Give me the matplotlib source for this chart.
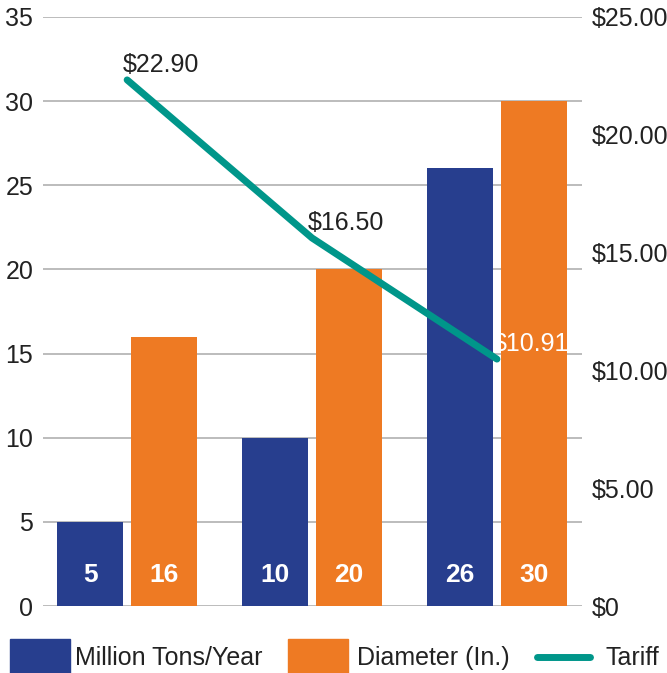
import matplotlib
matplotlib.use('Agg')
import matplotlib.pyplot as plt
from matplotlib.patches import Rectangle
import numpy as np

plt.rcParams['font.family'] = ['Liberation Sans', 'DejaVu Sans']

# data
groups = ['A', 'B', 'C']
tons = [5, 10, 26]
diameter = [16, 20, 30]
tariff = [22.33, 15.62, 10.48]          # where the line sits in the picture
tariff_labels = ['$22.90', '$16.50', '$10.91']
left_ticks = [0, 5, 10, 15, 20, 25, 30, 35]
right_ticks = [0, 5, 10, 15, 20, 25]
right_labels = ['$0', '$5.00', '$10.00', '$15.00', '$20.00', '$25.00']
legend_labels = ['Million Tons/Year', 'Diameter (In.)', 'Tariff']

blue = '#273e8e'
orange = '#ee7a23'
teal = '#00968a'
grid = '#a9a9a9'
text = '#222222'

W, H = 667, 673
fig = plt.figure(figsize=(W / 100, H / 100), dpi=100)
ax = fig.add_axes([43 / W, (H - 606) / H, (582 - 43) / W, (606 - 17) / H])
ax2 = ax.twinx()

x = np.arange(len(groups))
bw = 0.357
off = 0.2
ax.bar(x - off, tons, bw, color=blue, zorder=2)
ax.bar(x + off, diameter, bw, color=orange, zorder=2)
for xi, v in zip(x, tons):
    ax.text(xi - off, 1.85, str(v), color='white', fontsize=19,
            fontweight='bold', ha='center', va='center', zorder=3)
for xi, v in zip(x, diameter):
    ax.text(xi + off, 1.85, str(v), color='white', fontsize=19,
            fontweight='bold', ha='center', va='center', zorder=3)

ax.set_xlim(-0.455, 2.46)
ax.set_ylim(0, 35)
ax.set_yticks(left_ticks)
ax.set_yticklabels([str(t) for t in left_ticks], fontsize=18, color=text)
ax.set_xticks([])
for t in left_ticks:
    ax.axhline(t, color=grid, lw=1.1, zorder=1)
ax.tick_params(axis='y', length=0, pad=7)

ax2.set_ylim(0, 25)
ax2.set_yticks(right_ticks)
ax2.set_yticklabels(right_labels, fontsize=18, color=text)
ax2.tick_params(axis='y', length=0, pad=7)
for a in (ax, ax2):
    for s in a.spines.values():
        s.set_visible(False)

ax2.plot(x, tariff, color=teal, lw=5, solid_capstyle='round', zorder=4)
label_colors = [text, text, 'white']
for xi, v, lab, c in zip(x, tariff, tariff_labels, label_colors):
    ax2.annotate(lab, (xi, v), xytext=(-3, 6), textcoords='offset points',
                 ha='left', va='baseline', fontsize=18, color=c, zorder=5)

# legend, laid out in pixel space along the bottom
leg = fig.add_axes([0, 0, 1, 1])
leg.set_xlim(0, W)
leg.set_ylim(H, 0)
leg.axis('off')
leg.add_patch(Rectangle((10, 639), 60, 34, color=blue))
leg.add_patch(Rectangle((288, 639), 60, 34, color=orange))
leg.plot([537, 590], [657, 657], color=teal, lw=5, solid_capstyle='round')
for lx, lab in zip([75, 357, 606], legend_labels):
    leg.text(lx, 658, lab, fontsize=18, color=text, ha='left', va='center')

fig.savefig('out.png', dpi=100)
